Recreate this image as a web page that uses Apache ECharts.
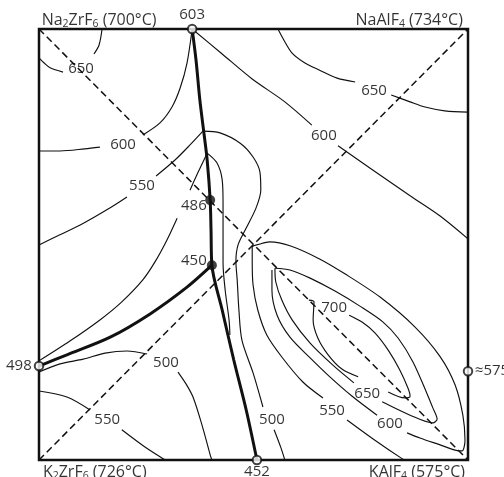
<!DOCTYPE html>
<html>
<head>
<meta charset="utf-8">
<script src="https://cdn.jsdelivr.net/npm/echarts@6/dist/echarts.min.js"></script>
<style>
  html, body { margin: 0; background: #fff; }
  #chart { width: 504px; height: 477px; }
</style>
</head>
<body>
<div id="chart"></div>
<script>
// reciprocal square, both composition axes run 0..100
const diagonalNaK = [[0, 100], [100, 0]];
const diagonalKNa = [[0, 0], [100, 100]];

// thick boundary curves
const boundaryMain = [[35.7, 100], [36.6, 92.8], [37.5, 83.5], [38.5, 75.4], [39.2, 69.6], [39.9, 60.3],
  [40.1, 53.4], [40.3, 45.2], [42.7, 34.8], [45.4, 23.2], [48.3, 11.6], [50.8, 0]];
const boundaryLeft = [[0, 21.8], [6.5, 24.4], [16.6, 28.5], [25.9, 33.9], [34.5, 40.1], [40.3, 45.2]];

// isotherms (pieces between label gaps)
const iso650NW = [[0, 93.3], [1.2, 92.1], [2.6, 91.0], [5.6, 90.0]];
const iso650N = [[12.8, 94.2], [14.0, 96.3], [14.7, 100]];
const iso600W = [[0, 71.7], [4.9, 71.7], [10.7, 72.2], [14.2, 72.6]];
const iso600NW = [[24.2, 75.4], [28.2, 78.2], [31.0, 81.9], [32.9, 86.3], [34.5, 92.1], [35.7, 100]];
const iso600NE1 = [[35.7, 100], [42.7, 94.2], [49.7, 88.4], [57.3, 83.1], [63.6, 77.7]];
const iso600NE2 = [[69.7, 72.9], [77.2, 67.7], [86.5, 61.3], [93.5, 56.6], [100, 51.3]];
const iso650NE1 = [[55.7, 100], [57.1, 97.4], [59.0, 94.4], [62.0, 92.1], [65.3, 90.5], [69.5, 88.6], [73.7, 87.7]];
const iso650NE2 = [[82.1, 84.7], [86.5, 83.1], [90.0, 81.9], [94.6, 81.0], [100, 80.7]];
const iso550W1 = [[0, 49.9], [3.3, 51.5], [9.6, 54.5], [16.6, 58.5], [20.5, 61.0]];
const iso550W2 = [[27.3, 65.9], [31.7, 69.6], [35.2, 73.1], [38.2, 76.3]];
const bulge1 = [[38.2, 76.3], [42.2, 75.9], [46.9, 73.5], [49.9, 70.3], [51.5, 66.8], [51.7, 62.6], [50.6, 58.5],
  [48.3, 53.8], [46.4, 49.9], [45.9, 46.0], [46.2, 41.8], [46.6, 34.8], [47.3, 27.8], [49.9, 20.2], [52.2, 12.3]];
const bulge2 = [[54.8, 7.0], [56.4, 2.8], [57.3, 0]];
const iso500E = [[39.2, 71.2], [41.5, 68.9], [42.7, 65.0], [42.9, 59.6], [42.9, 45.7], [43.4, 39.4], [44.3, 32.5], [44.5, 29.0]];
const iso500W1 = [[39.2, 71.2], [37.1, 66.8], [35.2, 62.6]];
const iso500W2 = [[32.2, 56.1], [29.8, 51.0], [27.0, 45.9], [24.2, 41.8], [19.3, 36.7], [14.2, 32.5], [7.2, 27.6], [0, 23.0]];
const iso500SW1 = [[0, 20.4], [4.9, 22.3], [10.3, 23.4], [15.4, 24.8], [20.5, 25.3], [25.2, 24.6]];
const iso500SW2 = [[32.4, 20.4], [34.3, 17.6], [35.9, 14.6], [38.0, 8.1], [39.9, 1.2], [40.3, 0]];
const iso550SW1 = [[0, 16.0], [6.5, 14.6], [11.9, 11.6]];
const iso550SW2 = [[19.3, 7.0], [24.7, 3.0], [29.4, 0]];

// closed-ish isotherms around the KAlF4 side
const loop700a = [[62.9, 37.1], [64.1, 36.7], [63.9, 32.5], [65.0, 28.3], [67.4, 24.4], [70.6, 21.1], [74.4, 19.3]];
const loop700b = [[81.4, 15.8], [85.3, 14.4], [86.5, 14.8], [86.0, 16.7], [84.1, 20.9], [81.4, 25.5], [78.3, 29.5], [75.3, 32.0], [72.3, 33.6]];
const loop650a = [[55.0, 44.5], [55.2, 41.3], [56.6, 37.1], [59.0, 32.5], [63.2, 27.1], [68.5, 22.0], [73.4, 17.9]];
const loop650b = [[80.0, 13.5], [86.5, 10.4], [91.8, 8.6], [92.8, 9.5], [91.8, 12.1], [90.4, 15.5], [87.2, 22.7],
  [83.7, 28.3], [80.2, 32.0], [74.8, 35.7], [69.0, 39.2], [63.2, 42.2], [58.5, 44.1], [55.0, 44.5]];
const iso600S1 = [[54.3, 44.1], [54.3, 39.4], [55.5, 33.6], [58.5, 28.5], [63.2, 23.7], [67.8, 19.3], [73.0, 14.8], [78.8, 10.4]];
const outerHook = [[85.8, 6.3], [88.8, 5.1], [93.5, 3.5], [97.0, 2.3], [98.6, 2.1], [99.3, 4.6], [98.8, 10.4], [97.0, 17.4],
  [93.5, 24.0], [87.6, 30.9], [79.5, 37.8], [71.3, 43.2], [65.5, 46.6], [58.5, 49.7], [53.8, 50.6], [51.5, 50.1], [49.7, 49.4],
  [49.7, 46.4], [49.9, 40.6], [51.0, 34.8], [53.1, 29.0], [56.6, 23.9], [61.5, 18.1], [66.2, 14.4]];
const iso550S2 = [[71.8, 9.3], [78.3, 4.6], [84.8, 0.2], [85.3, 0]];

const thinLines = [iso650NW, iso650N, iso600W, iso600NW, iso600NE1, iso600NE2, iso650NE1, iso650NE2,
  iso550W1, iso550W2, bulge1, bulge2, iso500E, iso500W1, iso500W2, iso500SW1, iso500SW2, iso550SW1, iso550SW2,
  loop700a, loop700b, loop650a, loop650b, iso600S1, outerHook, iso550S2];

// points
const openPoints = [[35.7, 100], [0, 21.8], [50.8, 0], [100, 20.6]];
const filledPoints = [[39.9, 60.3], [40.3, 45.2]];

// temperature labels [text, x, y]
const isoLabels = [
  ['650', 9.8, 90.7], ['600', 19.6, 73.1], ['550', 24.0, 63.6], ['600', 66.4, 75.2], ['650', 78.1, 85.6],
  ['500', 29.6, 22.5], ['550', 15.9, 9.3], ['500', 54.3, 9.3], ['550', 68.3, 11.4], ['650', 76.5, 15.3],
  ['600', 81.8, 8.4], ['700', 68.8, 35.3],
  ['603', 35.7, 103.2], ['486', 36.1, 58.9], ['450', 36.1, 46.2], ['498', -4.7, 21.8], ['452', 50.8, -2.8]
];
const sideLabel = ['\u2248575', 101.6, 20.6];

// corner compounds [rich text, x, y]
const cornerLabels = [
  ['{a|Na}{s|2}{a|ZrF}{s|6}{a| (700°C)}', 14.0, 102.0],
  ['{a|NaAlF}{s|4}{a| (734°C)}', 86.3, 102.0],
  ['{a|K}{s|2}{a|ZrF}{s|6}{a| (726°C)}', 13.0, -2.8],
  ['{a|KAlF}{s|4}{a| (575°C)}', 88.1, -2.8]
];

const font = 'Open Sans';
const ink = '#000';

const series = [];
[diagonalNaK, diagonalKNa].forEach((d) => {
  series.push({
    type: 'line', data: d, symbol: 'none', silent: true,
    lineStyle: { color: '#111', width: 1.5, type: [7, 4] }
  });
});
thinLines.forEach((d) => {
  series.push({
    type: 'line', data: d, symbol: 'none', smooth: 0.3, silent: true,
    lineStyle: { color: '#111', width: 1.15 }
  });
});
[boundaryMain, boundaryLeft].forEach((d) => {
  series.push({
    type: 'line', data: d, symbol: 'none', smooth: 0.3, silent: true,
    lineStyle: { color: '#111', width: 3 }
  });
});
series.push({
  type: 'scatter', data: filledPoints, symbolSize: 10, z: 5,
  itemStyle: { color: '#111' }
});
series.push({
  type: 'scatter', data: openPoints, symbolSize: 8.5, z: 5, clip: false,
  itemStyle: { color: '#fff', borderColor: '#111', borderWidth: 2 }
});

const labelStyle = { color: ink, fontSize: 15, fontFamily: font, textBorderWidth: 0 };
series.push({
  type: 'scatter', clip: false, symbolSize: 0.1, z: 6,
  data: isoLabels.map((l) => ({ name: l[0], value: [l[1], l[2]] })),
  itemStyle: { color: 'rgba(0,0,0,0)' },
  label: Object.assign({ show: true, position: 'inside', formatter: '{b}' }, labelStyle)
});
series.push({
  type: 'scatter', clip: false, symbolSize: 0.1, z: 6,
  data: [{ name: sideLabel[0], value: [sideLabel[1], sideLabel[2]] }],
  itemStyle: { color: 'rgba(0,0,0,0)' },
  label: Object.assign({ show: true, position: 'inside', align: 'left', formatter: '{b}' }, labelStyle)
});
series.push({
  type: 'scatter', clip: false, symbolSize: 0.1, z: 6,
  data: cornerLabels.map((l) => ({ name: l[0], value: [l[1], l[2]] })),
  itemStyle: { color: 'rgba(0,0,0,0)' },
  label: {
    show: true, position: 'inside', formatter: '{b}', textBorderWidth: 0,
    rich: {
      a: { fontSize: 16, fontFamily: font, color: ink, lineHeight: 19 },
      s: { fontSize: 10.5, fontFamily: font, color: ink, lineHeight: 8, verticalAlign: 'bottom' }
    }
  }
});

const chart = echarts.init(document.getElementById('chart'), null, { renderer: 'canvas' });
chart.setOption({
  animation: false,
  backgroundColor: '#fff',
  grid: { left: 39, top: 29, width: 429, height: 431, show: true, borderColor: '#111', borderWidth: 2.5 },
  xAxis: { type: 'value', min: 0, max: 100, show: false },
  yAxis: { type: 'value', min: 0, max: 100, show: false },
  series: series
});
</script>
</body>
</html>
